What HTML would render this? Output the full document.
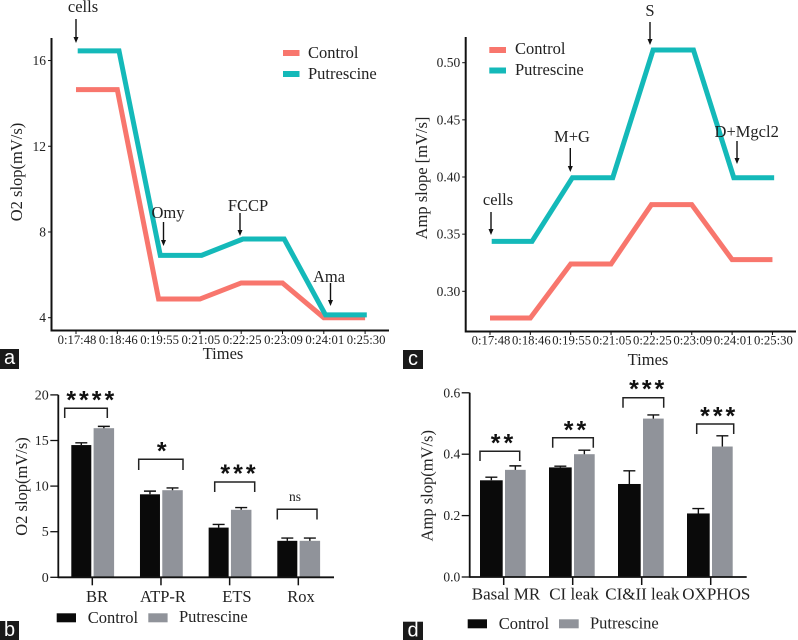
<!DOCTYPE html>
<html lang="en">
<head>
<meta charset="utf-8">
<title>Mitochondrial respiration charts</title>
<style>
html,body{margin:0;padding:0;background:#fff;width:798px;height:640px;overflow:hidden}
svg{display:block;filter:blur(.35px)}
text{font-family:"Liberation Serif",serif;fill:#222}
.t12{font-size:12.7px;text-anchor:middle}
.t13{font-size:13.5px;text-anchor:end}
.lab{font-size:16.5px}
.mid{text-anchor:middle}
.star{font-family:"Liberation Sans",sans-serif;font-weight:bold;font-size:25px;letter-spacing:3px;text-anchor:middle;fill:#111}
.panel{font-family:"Liberation Sans",sans-serif;font-size:20px;fill:#fff;text-anchor:middle}
.arrow line{stroke:#111;stroke-width:1.4}
.arrow polygon{fill:#111}
.br{fill:none;stroke:#222;stroke-width:1.5}
</style>
</head>
<body>
<svg id="fig" width="798" height="640" viewBox="0 0 798 640" xmlns="http://www.w3.org/2000/svg">
  <rect width="798" height="640" fill="#fff"/>

  <g id="chart-a"></g>
  <g id="chart-c"></g>
  <g id="chart-b"></g>
  <g id="chart-d"></g>

  <!-- Panel a static text -->
  <text class="lab" x="22" y="172" transform="rotate(-90 22 172)" text-anchor="middle">O2 slop(mV/s)</text>
  <text class="lab mid" x="223" y="359">Times</text>
  <rect x="283" y="50" width="16.5" height="6" fill="#F8766D"/>
  <rect x="283" y="71" width="16.5" height="6" fill="#14B9B9"/>
  <text class="lab" x="308" y="58">Control</text>
  <text class="lab" x="308" y="79">Putrescine</text>
  <text class="lab mid" x="83" y="12">cells</text>
  <g class="arrow"><line x1="76" y1="19" x2="76" y2="38"/><polygon points="73.5,37 78.5,37 76,43"/></g>
  <text class="lab mid" x="168" y="218">Omy</text>
  <g class="arrow"><line x1="163.5" y1="222" x2="163.5" y2="241"/><polygon points="161,240 166,240 163.5,246"/></g>
  <text class="lab mid" x="248" y="211">FCCP</text>
  <g class="arrow"><line x1="240" y1="213" x2="240" y2="231"/><polygon points="237.5,230 242.5,230 240,236"/></g>
  <text class="lab mid" x="329" y="282">Ama</text>
  <g class="arrow"><line x1="330.5" y1="283" x2="330.5" y2="301"/><polygon points="328,300 333,300 330.5,306"/></g>
  <rect x="0" y="349" width="19" height="20" fill="#1a1a1a"/>
  <text class="panel" x="9.5" y="364">a</text>

  <!-- Panel c static text -->
  <text class="lab" x="427" y="178" transform="rotate(-90 427 178)" text-anchor="middle">Amp slope [mV/s]</text>
  <text class="lab mid" x="648" y="365">Times</text>
  <rect x="489.3" y="47" width="16.7" height="6" fill="#F8766D"/>
  <rect x="489.3" y="67.5" width="16.7" height="6" fill="#14B9B9"/>
  <text class="lab" x="515" y="54">Control</text>
  <text class="lab" x="515" y="75">Putrescine</text>
  <text class="lab mid" x="498" y="205">cells</text>
  <g class="arrow"><line x1="491" y1="212" x2="491" y2="230"/><polygon points="488.5,229 493.5,229 491,235"/></g>
  <text class="lab mid" x="572" y="142">M+G</text>
  <g class="arrow"><line x1="570.3" y1="148" x2="570.3" y2="167"/><polygon points="567.8,166 572.8,166 570.3,172"/></g>
  <text class="lab mid" x="650" y="16">S</text>
  <g class="arrow"><line x1="650" y1="22" x2="650" y2="40"/><polygon points="647.5,39 652.5,39 650,45"/></g>
  <text class="lab mid" x="746.7" y="137">D+Mgcl2</text>
  <g class="arrow"><line x1="737" y1="141" x2="737" y2="159"/><polygon points="734.5,158 739.5,158 737,164"/></g>
  <rect x="403" y="350" width="20" height="19" fill="#1a1a1a"/>
  <text class="panel" x="413" y="365">c</text>

  <!-- Panel b static text -->
  <text class="lab" x="27" y="486.5" transform="rotate(-90 27 486.5)" text-anchor="middle">O2 slop(mV/s)</text>
  <rect x="56.7" y="613.3" width="19.3" height="9" fill="#0a0a0a"/>
  <rect x="148.3" y="613.3" width="19.3" height="9" fill="#90939a"/>
  <text class="lab" x="87.7" y="623">Control</text>
  <text class="lab" x="179" y="622">Putrescine</text>
  <path class="br" d="M64.7 418V408.3H107.3V418"/>
  <text class="star" x="91.8" y="408.7">****</text>
  <path class="br" d="M138.7 470V459.3H183V470"/>
  <text class="star" x="163.2" y="459.7">*</text>
  <path class="br" d="M214.7 492V482H254.7V492"/>
  <text class="star" x="239.5" y="482">***</text>
  <path class="br" d="M277.3 519.5V509.3H317V519.5"/>
  <text x="295" y="501" font-size="13.5" text-anchor="middle">ns</text>
  <rect x="0" y="621" width="19" height="19" fill="#1a1a1a"/>
  <text class="panel" x="9.5" y="636">b</text>

  <!-- Panel d static text -->
  <text class="lab" x="432.7" y="485.7" transform="rotate(-90 432.7 485.7)" text-anchor="middle">Amp slop(mV/s)</text>
  <rect x="467.7" y="619.3" width="19.3" height="9" fill="#0a0a0a"/>
  <rect x="559" y="619.3" width="19.7" height="9" fill="#90939a"/>
  <text class="lab" x="498.7" y="629">Control</text>
  <text class="lab" x="590" y="628.7">Putrescine</text>
  <path class="br" d="M480 461V451.3H519.7V461"/>
  <text class="star" x="503.5" y="451.3">**</text>
  <path class="br" d="M552.7 447.7V437.7H593.3V447.7"/>
  <text class="star" x="576.5" y="438.7">**</text>
  <path class="br" d="M623 407.7V397.7H663.7V407.7"/>
  <text class="star" x="648.2" y="397.7">***</text>
  <path class="br" d="M696.7 434V424H733.7V434"/>
  <text class="star" x="719.2" y="424.3">***</text>
  <rect x="403" y="621.7" width="20" height="18.3" fill="#1a1a1a"/>
  <text class="panel" x="413" y="636.5">d</text>
</svg>

<script>
// ----- Shared time categories -----
var timeLabels = ["0:17:48","0:18:46","0:19:55","0:21:05","0:22:25","0:23:09","0:24:01","0:25:30"];

// ----- Panel a data -----
var aControl = [14.64,14.64,4.87,4.87,5.62,5.62,4.0,4.0];
var aPutrescine = [16.45,16.45,6.91,6.91,7.67,7.67,4.13,4.13];
var aTicks = [4,8,12,16];
var aTickLabels = ["4","8","12","16"];

// ----- Panel c data -----
var cControl = [0.2766,0.2766,0.3239,0.3239,0.3758,0.3758,0.3277,0.3277];
var cPutrescine = [0.3437,0.3437,0.3994,0.3994,0.5111,0.5111,0.3994,0.3994];
var cTicks = [0.30,0.35,0.40,0.45,0.50];
var cTickLabels = ["0.30","0.35","0.40","0.45","0.50"];

// ----- Panel b data -----
var bCategories = ["BR","ATP-R","ETS","Rox"];
var bControl = [14.5,9.1,5.45,4.0];
var bControlErr = [0.25,0.35,0.35,0.3];
var bPutrescine = [16.35,9.55,7.4,4.0];
var bPutrescineErr = [0.2,0.25,0.25,0.3];
var bTicks = [0,5,10,15,20];
var bTickLabels = ["0","5","10","15","20"];

// ----- Panel d data -----
var dCategories = ["Basal MR","CI leak","CI&II leak","OXPHOS"];
var dControl = [0.315,0.357,0.303,0.207];
var dControlErr = [0.01,0.004,0.043,0.016];
var dPutrescine = [0.349,0.400,0.516,0.425];
var dPutrescineErr = [0.013,0.013,0.012,0.035];
var dTicks = [0,0.2,0.4,0.6];
var dTickLabels = ["0.0","0.2","0.4","0.6"];

var NS = "http://www.w3.org/2000/svg";
function mk(parent, tag, attrs, txt) {
  var el = document.createElementNS(NS, tag);
  for (var k in attrs) el.setAttribute(k, attrs[k]);
  if (txt !== undefined) el.textContent = txt;
  parent.appendChild(el);
  return el;
}
function axisLine(parent, x1, y1, x2, y2, w) {
  return mk(parent, "line", {x1:x1, y1:y1, x2:x2, y2:y2, stroke:"#111", "stroke-width":w});
}
function polyline(parent, values, xFn, yFn, color) {
  var pts = values.map(function (v, i) { return xFn(i).toFixed(2) + "," + yFn(v).toFixed(2); }).join(" ");
  return mk(parent, "polyline", {points:pts, fill:"none", stroke:color, "stroke-width":5, "stroke-linejoin":"miter"});
}

function drawLineChart(id, prefix, ctrl, putr, ticks, labels, opt) {
  var g = document.getElementById(id);
  var yFn = function (v) { return opt.y0 - (v - opt.v0) * opt.k; };
  var xFn = function (i) { return opt.x0 + i * opt.dx; };
  var axis = axisLine(g, opt.axisX, opt.top, opt.axisX, opt.bottom + 1, 2);
  
  
  var xaxis = axisLine(g, opt.axisX, opt.bottom, opt.right, opt.bottom, 2);
  
  
  ticks.forEach(function (v, i) {
    var y = yFn(v);
    var tick = axisLine(g, opt.axisX - 3.5, y, opt.axisX, y, 1);
    
    
    var lb = mk(g, "text", {"class":"t13", x:opt.axisX - 5.5, y:y + 4.5}, labels[i]);
    
    
  });
  timeLabels.forEach(function (t, i) {
    var x = xFn(i);
    var tick = axisLine(g, x, opt.bottom, x, opt.bottom + 3.5, 1);
    
    
    var lb = mk(g, "text", {"class":"t12", x:x + 1, y:opt.labelY}, t);
    
    
  });
  var l1 = polyline(g, ctrl, xFn, yFn, "#F8766D");
  
  
  var l2 = polyline(g, putr, function (i) { return xFn(i) + 1.7; }, yFn, "#14B9B9");
  
  
}

function drawBarChart(id, prefix, cats, ctrl, ctrlErr, putr, putrErr, ticks, labels, opt) {
  var g = document.getElementById(id);
  var yFn = function (v) { return opt.y0 - v * opt.k; };
  var xFn = function (i) { return opt.x0 + i * opt.dx; };
  function bar(v, err, left, width, color, name) {
    var top = yFn(v);
    var r = mk(g, "rect", {x:left, y:top, width:width, height:opt.y0 - top, fill:color});
    
    
    var cx = left + width / 2;
    var et = yFn(v + err);
    var e = mk(g, "path", {d:"M" + cx + " " + top + "V" + et + "M" + (cx - 6) + " " + et + "H" + (cx + 6), stroke:"#111", "stroke-width":1.4, fill:"none"});
    
    
  }
  cats.forEach(function (c, i) {
    var x = xFn(i);
    bar(ctrl[i], ctrlErr[i], x - opt.w1 - 1, opt.w1, "#0a0a0a", "control-" + i);
    bar(putr[i], putrErr[i], x + 1.3, opt.w2, "#90939a", "putrescine-" + i);
    var tick = axisLine(g, x, opt.y0, x, opt.y0 + 8, 1.5);
    
    
    var lb = mk(g, "text", {"class":"lab mid", x:x + opt.labelShift[i], y:opt.labelY, style:"font-size:" + opt.labelSize + "px"}, c);
    
    
  });
  var ya = axisLine(g, opt.axisX, yFn(opt.vmax), opt.axisX, opt.y0 + 0.8, 1.8);
  
  
  var xa = axisLine(g, opt.axisX, opt.y0, opt.right, opt.y0, 1.8);
  
  
  ticks.forEach(function (v, i) {
    var y = yFn(v);
    var tick = axisLine(g, opt.axisX - 8, y, opt.axisX, y, 1.3);
    
    
    var lb = mk(g, "text", {"class":"t13", x:opt.axisX - 9.5, y:y + 4.5, style:"font-size:" + opt.tickSize + "px"}, labels[i]);
    
    
  });
}

drawLineChart("chart-a", "a", aControl, aPutrescine, aTicks, aTickLabels,
  {x0:76, dx:41.3, y0:317.7, v0:4, k:21.43, axisX:51.5, top:38, bottom:330.5, right:389, labelY:344});
drawLineChart("chart-c", "c", cControl, cPutrescine, cTicks, cTickLabels,
  {x0:490, dx:40.35, y0:291.3, v0:0.3, k:1143, axisX:465.7, top:37, bottom:331.5, right:796, labelY:344.7});
drawBarChart("chart-b", "b", bCategories, bControl, bControlErr, bPutrescine, bPutrescineErr, bTicks, bTickLabels,
  {x0:92.3, dx:68.67, y0:577.3, k:9.12, vmax:20, axisX:58.3, right:334, w1:20, w2:20.5, labelY:602, labelSize:16.5, tickSize:14, labelShift:[4.7,2,7.3,2.7]});
drawBarChart("chart-d", "d", dCategories, dControl, dControlErr, dPutrescine, dPutrescineErr, dTicks, dTickLabels,
  {x0:503.7, dx:69, y0:577, k:307, vmax:0.6, axisX:469.7, right:746.7, w1:22.7, w2:20.7, labelY:599.3, labelSize:17, tickSize:13.5, labelShift:[2.3,1.3,0.6,5.6]});
</script>
</body>
</html>
